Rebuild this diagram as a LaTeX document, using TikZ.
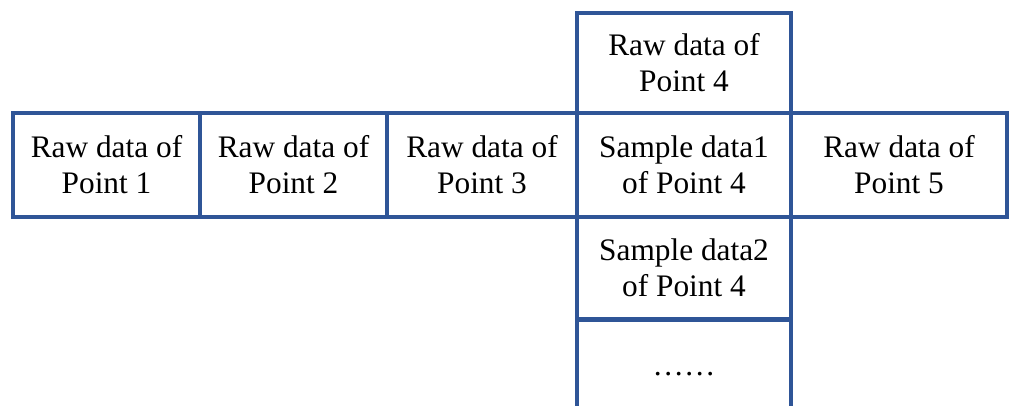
\documentclass[tikz,border=0pt]{standalone}
\usepackage{fontspec}
\setmainfont{Liberation Serif}
\usetikzlibrary{positioning}
\definecolor{boxblue}{RGB}{47,85,151}

\begin{document}
\begin{tikzpicture}[x=0.75pt,y=-0.75pt,
	cell/.style={draw=boxblue,line width=3.5pt,align=center,inner sep=0pt,
		font=\fontsize{23.5}{27}\selectfont,minimum height=78pt}
	]
	\useasboundingbox (0,0) rectangle (1009,405);

	\node[cell,minimum width=140.25pt] (p1) at (106.5,165) {Raw data of\\Point 1};
	\node[cell,minimum width=140.25pt] (p2) at (293.5,165) {Raw data of\\Point 2};
	\node[cell,minimum width=142.5pt] (p3) at (482,165) {Raw data of\\Point 3};
	\node[cell,minimum width=160.5pt] (s1) at (684,165) {Sample data1\\of Point 4};
	\node[cell,minimum width=162pt] (p5) at (899,165) {Raw data of\\Point 5};

	\node[cell,minimum width=160.5pt,minimum height=75pt] (r4) at (684,63) {Raw data of\\Point 4};
	\node[cell,minimum width=160.5pt,minimum height=76.5pt] (s2) at (684,268) {Sample data2\\of Point 4};
	\node[cell,minimum width=160.5pt,minimum height=82pt] (dots) at (684,374) {……};

\end{tikzpicture}
\end{document}
